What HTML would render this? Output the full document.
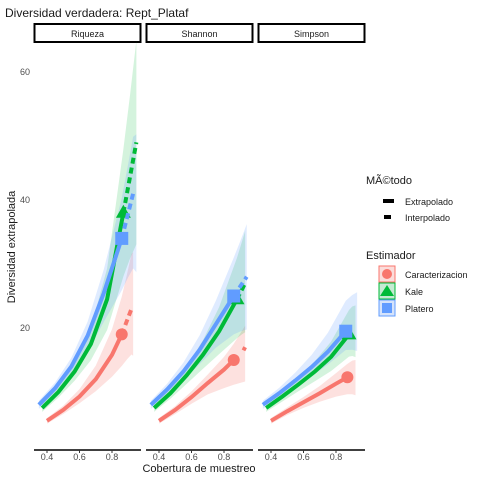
<!DOCTYPE html>
<html><head><meta charset="utf-8"><style>
body{margin:0;background:#fff;font-family:"Liberation Sans",sans-serif}
svg text{font-family:"Liberation Sans",sans-serif}
</style></head><body>
<svg id="c" width="480" height="480" viewBox="0 0 480 480">
<rect width="480" height="480" fill="#fff"/>
<text x="5" y="17" font-size="12" fill="#1a1a1a">Diversidad verdadera: Rept_Plataf</text>
<text transform="translate(15,247) rotate(-90)" text-anchor="middle" font-size="11" fill="#1a1a1a">Diversidad extrapolada</text>
<text x="199" y="472" text-anchor="middle" font-size="11" fill="#1a1a1a">Cobertura de muestreo</text>
<g id="plots"></g>
<g>
<text x="366" y="184" font-size="11" fill="#1a1a1a">MÃ©todo</text>
<line x1="383" y1="201" x2="394" y2="201" stroke="#000" stroke-width="4"/>
<text x="405" y="205" font-size="9" fill="#1a1a1a">Extrapolado</text>
<line x1="384" y1="217" x2="391" y2="217" stroke="#000" stroke-width="4"/>
<text x="405" y="221" font-size="9" fill="#1a1a1a">Interpolado</text>
<text x="366" y="259" font-size="11" fill="#1a1a1a">Estimador</text>
<g>
<rect x="379" y="266" width="16" height="16" fill="#fbdcda" stroke="#F8766D"/>
<circle cx="387" cy="274" r="5" fill="#F8766D"/>
<text x="405" y="278" font-size="9" fill="#1a1a1a">Caracterizacion</text></g>
<g>
<rect x="379" y="283" width="16" height="16" fill="#c4ead2" stroke="#00BA38"/>
<polygon points="387,285 394,296 380,296" fill="#00BA38"/>
<text x="405" y="295" font-size="9" fill="#1a1a1a">Kale</text></g>
<g>
<rect x="379" y="300" width="16" height="16" fill="#d5e3fb" stroke="#619CFF"/>
<rect x="382" y="303" width="10" height="10" fill="#619CFF"/>
<text x="405" y="312" font-size="9" fill="#1a1a1a">Platero</text></g>
</g>
</svg>
<script>
const panels=["Riqueza","Shannon","Simpson"];
const xTicks=[0.4,0.6,0.8];
const yTicks=[20,40,60];
const interpX=[
 [[0.4,0.5,0.6,0.7,0.8,0.86],[0.37,0.47,0.57,0.67,0.77,0.87],[0.35,0.45,0.55,0.65,0.75,0.86]],
 [[0.4,0.5,0.6,0.7,0.8,0.86],[0.37,0.47,0.57,0.67,0.77,0.88],[0.35,0.45,0.55,0.65,0.75,0.86]],
 [[0.4,0.5,0.6,0.7,0.8,0.87],[0.37,0.47,0.57,0.67,0.77,0.88],[0.35,0.45,0.55,0.65,0.75,0.86]]];
const interpY=[
 [[5.5,7.2,9.3,12,15.8,19],[7.5,10,13.2,17.5,24.5,38],[8,10.6,14,18.8,25.5,34]],
 [[5.5,7.2,9.2,11.4,13.5,15],[7.5,9.8,12.6,15.8,19.5,24.5],[8,10.4,13.2,16.6,20.6,25]],
 [[5.5,7,8.4,9.8,11.3,12.3],[7.5,9.3,11.2,13.2,15.5,19],[8,9.8,11.8,13.9,16.3,19.5]]];
const extrapX=[
 [[0.86,0.89,0.92],[0.87,0.91,0.95],[0.86,0.9,0.93]],
 [[0.92,0.93],[0.88,0.91,0.93],[0.86,0.9,0.94]],
 [[0.87,0.9],[0.88,0.9],[0.86,0.9]]];
const extrapY=[
 [[19,21,23],[38,43.5,49],[34,38,41]],
 [[16.5,17],[24.5,26,27],[25,26.5,28]],
 [[12.3,12.6],[19,19.3],[19.5,19.8]]];
const ribbonEnd=[[0.93,0.95,0.95],[0.93,0.93,0.94],[0.92,0.92,0.93]];
const ribbonLo=[[17.5,37,32],[13,21.5,22],[10.5,17,18]];
const ribbonHi=[[30,61,47],[19,33,34],[14,22,24]];
const colors=["#F8766D","#00BA38","#619CFF"];
const fills=["rgba(248,118,109,0.22)","rgba(0,186,56,0.17)","rgba(97,156,255,0.2)"];
const shapes=["circle","triangle","square"];
const NS="http://www.w3.org/2000/svg";
const root=document.getElementById("plots");
const px0=[34,146,258], pw=107, plotTop=43, bot=450;
function yS(v){return 456-v*6.4;}
function mk(t,a,p){const e=document.createElementNS(NS,t);for(const k in a)e.setAttribute(k,a[k]);(p||root).appendChild(e);return e;}
panels.forEach((name,p)=>{
 const ox=px0[p];
 const xS=v=>ox+13+(v-0.4)*162.5;
 const g=mk("g",{});
 
 
 const strip=mk("rect",{x:ox+0.5,y:24,width:pw-1,height:18,fill:"#fff",stroke:"#000","stroke-width":2},g);
 
 
 const st=mk("text",{x:ox+pw/2,y:37,"text-anchor":"middle","font-size":9,fill:"#1a1a1a"},g);st.textContent=name;
 
 
 const ax=mk("line",{x1:ox,y1:bot,x2:ox+pw,y2:bot,stroke:"#000","stroke-width":1.5},g);
 
 
 xTicks.forEach(t=>{mk("line",{x1:xS(t),y1:bot,x2:xS(t),y2:bot+3,stroke:"#333"},g);
  const tx=mk("text",{x:xS(t),y:bot+10,"text-anchor":"middle","font-size":9,fill:"#4d4d4d"},g);tx.textContent=t.toFixed(1);
  
  });
 if(p===0){yTicks.forEach(t=>{const ty=mk("text",{x:ox-4,y:yS(t)+3,"text-anchor":"end","font-size":9,fill:"#4d4d4d"},g);ty.textContent=t;
  
  });}
 for(let s=0;s<3;s++){
  const xs=interpX[p][s], ys=interpY[p][s];
  const x0=xs[0], x1=ribbonEnd[p][s], yEnd=extrapY[p][s][extrapY[p][s].length-1];
  const loF=ribbonLo[p][s]/yEnd, hiF=ribbonHi[p][s]/yEnd;
  const allX=xs.concat(extrapX[p][s].slice(1)), allY=ys.concat(extrapY[p][s].slice(1));
  allX.push(x1);allY.push(yEnd);
  let up=[],lo=[];
  allX.forEach((x,i)=>{const f=(x-x0)/(x1-x0);const k=f*f;
   up.push(xS(x)+","+yS(allY[i]*(1+(hiF-1)*k+0.08)));lo.push(xS(x)+","+yS(allY[i]*(1-(1-loF)*k-0.08)));});
  const rb=mk("polygon",{points:up.concat(lo.reverse()).join(" "),fill:fills[s]},g);
  
  
 }
 for(let s=0;s<3;s++){
  const xs=interpX[p][s], ys=interpY[p][s];
  const ln=mk("polyline",{points:xs.map((x,i)=>xS(x)+","+yS(ys[i])).join(" "),fill:"none",stroke:colors[s],"stroke-width":4},g);
  
  
  const ex=mk("polyline",{points:extrapX[p][s].map((x,i)=>xS(x)+","+yS(extrapY[p][s][i])).join(" "),fill:"none",stroke:colors[s],"stroke-width":4,"stroke-dasharray":"6,4"},g);
  
  
  const cx=xS(xs[xs.length-1]), cy=yS(ys[ys.length-1]);
  let m;
  if(shapes[s]==="circle")m=mk("circle",{cx:cx,cy:cy,r:6,fill:colors[s]},g);
  else if(shapes[s]==="triangle")m=mk("polygon",{points:`${cx},${cy-8} ${cx+7.5},${cy+5} ${cx-7.5},${cy+5}`,fill:colors[s]},g);
  else m=mk("rect",{x:cx-6.5,y:cy-6.5,width:13,height:13,fill:colors[s]},g);
  
  
 }
});
</script>
</body></html>
